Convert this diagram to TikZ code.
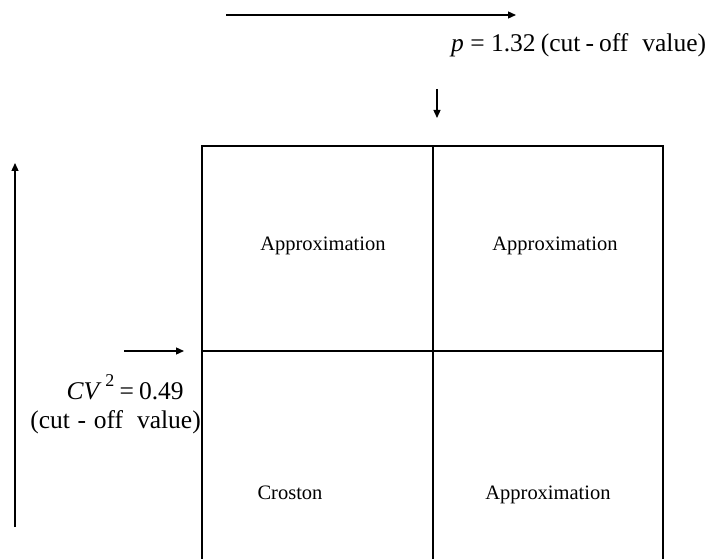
\documentclass[tikz,border=0pt]{standalone}
\usepackage{fontspec}
\setmainfont{Liberation Serif}
\usetikzlibrary{arrows.meta,positioning}

\newcommand{\cutoff}[1]{(cut\hspace{#1}-\hspace{#1}off\hspace{0.55em}value)}

\begin{document}
\begin{tikzpicture}[
    x=1pt, y=-1pt,
    font=\fontsize{20.5}{24}\selectfont,
    celltext/.style={
        inner sep=0pt,
        anchor=base,
        text=black
    },
    cutlabel/.style={
        inner sep=0pt,
        align=center,
        text=black,
        font=\fontsize{25.5}{31}\selectfont
    },
    gridline/.style={line width=1.6pt, draw=black},
    arrow/.style={-{Triangle[length=8pt,width=7pt]}, line width=1.3pt, draw=black}
]
\useasboundingbox (0,0) rectangle (713,559);
% quadrant grid
\coordinate (gridtl) at (202,146);
\coordinate (gridtr) at (663,146);
\coordinate (gridbl) at (202,559);
\coordinate (gridbr) at (663,559);
\draw[gridline] (gridbl) -- (gridtl) -- (gridtr) -- (gridbr);
\draw[gridline] (433,146) -- (433,559);
\draw[gridline] (202,351) -- (663,351);
% quadrant labels
\node[celltext] (upleft) at (323,251) {Approximation};
\node[celltext] (upright) at (555,251) {Approximation};
\node[celltext] (lowleft) at (290,499) {Croston};
\node[celltext] (lowright) at (548,499) {Approximation};
% cut-off labels
\node[cutlabel, anchor=west] (pcut) at (451,45) {\textit{p}\hspace{0.25em}=\hspace{0.25em}1.32\hspace{0.2em}\cutoff{0.2em}};
\node[cutlabel, anchor=east] (cvcut) at (201,404) {\hspace{0.75em}\textit{CV}\hspace{0.15em}\raisebox{0.5em}{\fontsize{18}{18}\selectfont 2}\hspace{0.2em}=\hspace{0.2em}0.49\\[-2pt]\cutoff{0.3em}\hspace{0.05em}};
% axis arrows
\coordinate (ptail) at (226,15);
\coordinate (phead) at (516,15);
\coordinate (cvtail) at (15,527);
\coordinate (cvhead) at (15,163);
\draw[arrow] (ptail) -- (phead);
\draw[arrow] (cvtail) -- (cvhead);
% pointers to the cut-off lines
\coordinate (pdown) at (437,118);
\coordinate (cvright) at (184,351);
\draw[arrow] (pdown |- 0,89) -- (pdown);
\draw[arrow] (124,351) -- (cvright);
\end{tikzpicture}
\end{document}
